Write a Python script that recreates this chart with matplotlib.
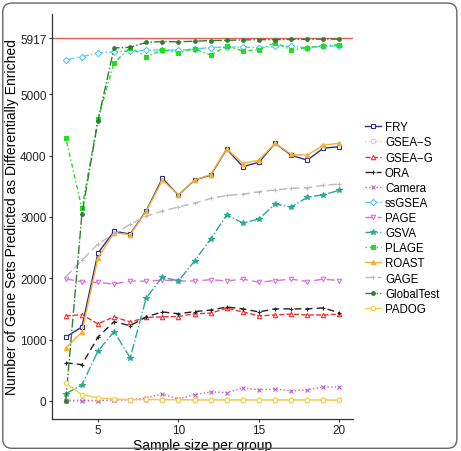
import matplotlib
matplotlib.use("Agg")
import matplotlib.pyplot as plt
from matplotlib.patches import FancyBboxPatch

plt.rcParams['font.family'] = ['Liberation Sans', 'DejaVu Sans']

sizes = list(range(3, 21))

fry = [1040, 1205, 2410, 2765, 2720, 3100, 3630, 3355, 3600, 3680, 4105, 3820, 3890, 4200, 4005, 3925, 4120, 4145]
gsea_s = [20, 15, 10, 10, 10, 15, 15, 10, 10, 10, 10, 10, 10, 10, 10, 10, 10, 10]
gsea_g = [1385, 1405, 1255, 1370, 1285, 1360, 1370, 1375, 1420, 1430, 1510, 1450, 1385, 1400, 1415, 1400, 1400, 1415]
ora = [620, 590, 1040, 1290, 1225, 1370, 1450, 1420, 1455, 1480, 1530, 1500, 1450, 1500, 1500, 1500, 1515, 1435]
camera = [0, 0, 0, 15, 15, 50, 110, 30, 100, 145, 135, 210, 180, 195, 160, 180, 225, 225]
ssgsea = [5560, 5610, 5675, 5690, 5705, 5715, 5725, 5715, 5740, 5760, 5770, 5770, 5760, 5780, 5780, 5760, 5780, 5790]
page = [1990, 1940, 1930, 1905, 1955, 1950, 1970, 1955, 1955, 1975, 1955, 1985, 1935, 1960, 1985, 1945, 1985, 1960]
gsva = [115, 260, 810, 1130, 700, 1680, 2020, 1955, 2280, 2640, 3030, 2900, 2965, 3210, 3160, 3320, 3360, 3435]
plage = [4290, 3140, 4590, 5515, 5760, 5610, 5725, 5675, 5740, 5640, 5785, 5705, 5725, 5840, 5725, 5760, 5790, 5810]
roast = [860, 1120, 2330, 2740, 2710, 3090, 3600, 3360, 3600, 3690, 4110, 3870, 3925, 4200, 4020, 4005, 4170, 4200]
gage = [2020, 2290, 2560, 2720, 2880, 3010, 3095, 3160, 3225, 3300, 3350, 3370, 3410, 3440, 3465, 3475, 3515, 3535]
globaltest = [0, 3040, 4570, 5755, 5765, 5845, 5860, 5855, 5865, 5875, 5880, 5885, 5890, 5890, 5895, 5895, 5900, 5900]
padog = [290, 100, 50, 30, 20, 25, 20, 20, 15, 15, 15, 15, 15, 15, 15, 15, 15, 10]

total_sets = 5917

series = [
    ("FRY", fry, "#2E2E8C", "-", "s", "none"),
    ("GSEA\u2212S", gsea_s, "#F5B8C8", ":", "o", "none"),
    ("GSEA\u2212G", gsea_g, "#EE3030", "--", "^", "none"),
    ("ORA", ora, "#222222", (0, (5, 3)), "+", "full"),
    ("Camera", camera, "#C060C0", ":", "x", "full"),
    ("ssGSEA", ssgsea, "#55C8F5", "-.", "D", "none"),
    ("PAGE", page, "#DD70DD", (0, (6, 3)), "v", "none"),
    ("GSVA", gsva, "#2AA898", "-.", "*", "full"),
    ("PLAGE", plage, "#22DD22", (0, (1, 2, 3, 2)), "s", "full"),
    ("ROAST", roast, "#F5B030", "-", "^", "full"),
    ("GAGE", gage, "#BBBBBB", (0, (6, 3)), "+", "full"),
    ("GlobalTest", globaltest, "#2F7F2F", "-.", "o", "full"),
    ("PADOG", padog, "#F0D040", "-", "o", "none"),
]

fig = plt.figure(figsize=(4.61, 4.52), dpi=100)
ax = fig.add_axes([0.113, 0.071, 0.653, 0.896])

ax.axhline(total_sets, color="#E06060", lw=1.0, zorder=1)

handles = []
for name, vals, col, ls, mk, fill in series:
    ms = 3.2 if mk != "*" else 3.9
    if name == "GlobalTest":
        ms = 2.6
    if fill == "none":
        h, = ax.plot(sizes, vals, color=col, ls=ls, lw=1.0, marker=mk, ms=ms,
                     mfc="white", mec=col, mew=0.8, label=name)
    else:
        h, = ax.plot(sizes, vals, color=col, ls=ls, lw=1.0, marker=mk, ms=ms,
                     mfc=col, mec=col, mew=0.8, label=name)
    handles.append(h)

ax.set_xlim(2.15, 20.85)
ax.set_ylim(-295, 6310)
ax.set_xticks([5, 10, 15, 20])
ax.set_yticks([0, 1000, 2000, 3000, 4000, 5000, total_sets])
ax.set_yticklabels(["0", "1000", "2000", "3000", "4000", "5000", "5917"])
ax.tick_params(labelsize=8.5, length=2.5, pad=1.5, color="#333333", labelcolor="#222222")
for s in ["top", "right"]:
    ax.spines[s].set_visible(False)
for s in ["left", "bottom"]:
    ax.spines[s].set_color("#333333")
    ax.spines[s].set_linewidth(0.9)

ax.set_xlabel("Sample size per group", fontsize=10, labelpad=1)
ax.set_ylabel("Number of Gene Sets Predicted as Differentially Enriched", fontsize=10, labelpad=1)

leg = fig.legend(handles=handles, loc="upper left", bbox_to_anchor=(0.78, 0.742),
                 frameon=False, fontsize=8.3, handlelength=1.4, handletextpad=0.3,
                 labelspacing=0.27, borderpad=0)

border = FancyBboxPatch((0.006, 0.006), 0.985, 0.985, boxstyle="round,pad=0,rounding_size=0.02",
                        transform=fig.transFigure, fill=False, ec="#666666", lw=1.0)
fig.patches.append(border)

fig.savefig("out.png", dpi=100)
